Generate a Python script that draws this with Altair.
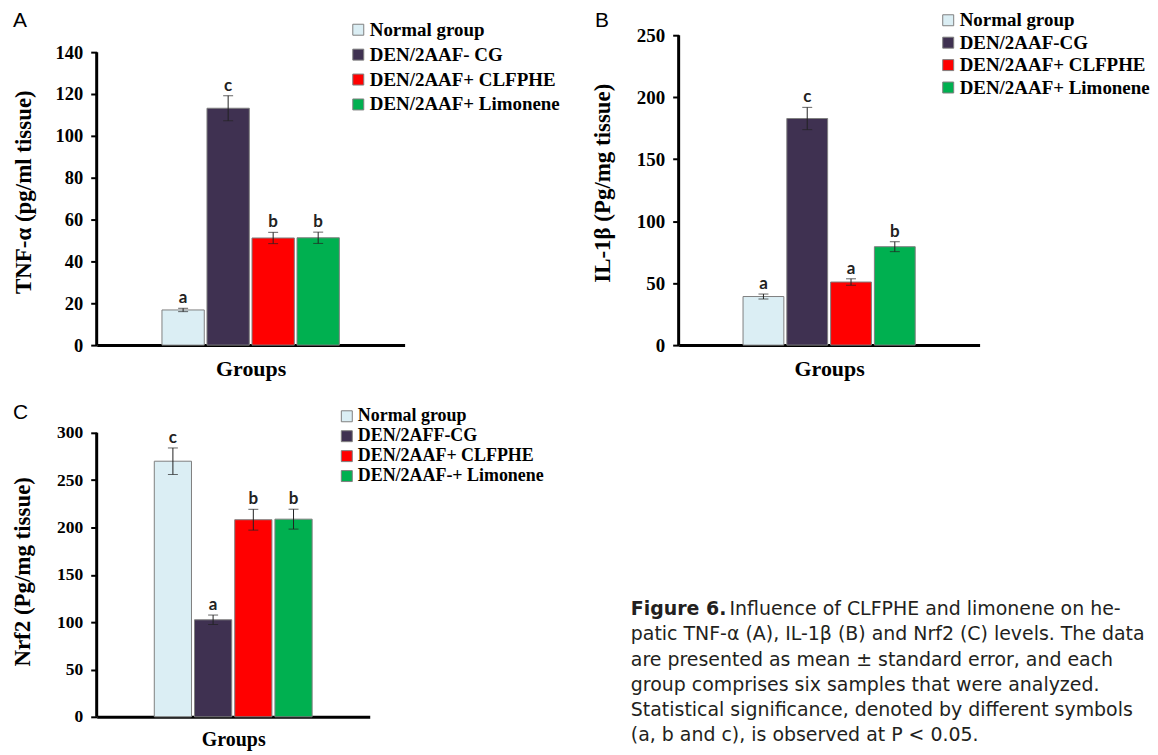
import altair as alt
import pandas as pd

# ---------------- data ----------------
colors = ["#dbeef4", "#3f3151", "#ff0000", "#00b050"]

groups_a = ["Normal group", "DEN/2AAF- CG", "DEN/2AAF+ CLFPHE", "DEN/2AAF+ Limonene"]
tnf_mean = [16.8, 113.2, 51.2, 51.3]
tnf_se = [0.8, 6.0, 2.7, 2.7]
tnf_sig = ["a", "c", "b", "b"]
tnf_ticks = [0, 20, 40, 60, 80, 100, 120, 140]

groups_b = ["Normal group", "DEN/2AAF-CG", "DEN/2AAF+ CLFPHE", "DEN/2AAF+ Limonene"]
il_mean = [39.2, 182.8, 50.9, 79.4]
il_se = [2.0, 9.0, 2.6, 4.0]
il_sig = ["a", "c", "a", "b"]
il_ticks = [0, 50, 100, 150, 200, 250]

groups_c = ["Normal group", "DEN/2AFF-CG", "DEN/2AAF+ CLFPHE", "DEN/2AAF-+ Limonene"]
nrf_mean = [270.0, 102.5, 208.2, 208.8]
nrf_se = [14.0, 5.0, 11.0, 10.5]
nrf_sig = ["c", "a", "b", "b"]
nrf_ticks = [0, 50, 100, 150, 200, 250, 300]

caption_bold = "Figure 6."
caption_first = "Influence of CLFPHE and limonene on he-"
caption_rest = [
    "patic TNF-\u03b1 (A), IL-1\u03b2 (B) and Nrf2 (C) levels. The data",
    "are presented as mean \u00b1 standard error, and each",
    "group comprises six samples that were analyzed.",
    "Statistical significance, denoted by different symbols",
    "(a, b and c), is observed at P < 0.05.",
]

SERIF = "Liberation Serif"


def panel(label, groups, means, ses, sigs, ticks, ytitle, w, h, ymax,
          po, pi, tick_fs, title_fs, groups_fs, title_pad, title_y,
          leg_x, leg_y, leg_fs, leg_rowpad, label_dy):
    df = pd.DataFrame({
        "cat": ["Groups"] * len(groups),
        "group": groups,
        "mean": means,
        "lo": [m - s for m, s in zip(means, ses)],
        "hi": [m + s for m, s in zip(means, ses)],
        "sig": sigs,
    })
    xscale = alt.Scale(paddingInner=0, paddingOuter=po)
    oscale = alt.Scale(domain=groups, paddingInner=pi, paddingOuter=0)
    yscale = alt.Scale(domain=[0, ymax], nice=False, zero=True)
    xaxis = alt.Axis(labels=False, ticks=False, domainColor="black", domainWidth=3,
                     title="Groups", titleFont=SERIF, titleFontSize=groups_fs,
                     titleFontWeight="bold", titleColor="black", titlePadding=13)
    yaxis = alt.Axis(values=ticks, domain=False, grid=False, tickColor="black",
                     tickWidth=2, tickSize=6, labelFont=SERIF, labelFontWeight="bold",
                     labelFontSize=tick_fs, labelColor="black", labelPadding=8,
                     title=ytitle, titleFont=SERIF, titleFontSize=title_fs,
                     titleFontWeight="bold", titleColor="black",
                     titlePadding=title_pad, titleY=title_y)
    X = alt.X("cat:N", scale=xscale, axis=xaxis)
    xo = alt.XOffset("group:N", sort=groups, scale=oscale)
    base = alt.Chart(df)
    bars = base.mark_bar(stroke="#808080", strokeWidth=1).encode(
        x=X,
        xOffset=xo,
        y=alt.Y("mean:Q", scale=yscale, axis=yaxis),
        color=alt.Color(
            "group:N", sort=groups,
            scale=alt.Scale(domain=groups, range=colors),
            legend=alt.Legend(orient="none", legendX=leg_x, legendY=leg_y, title=None,
                              symbolType="square", symbolSize=121,
                              symbolStrokeColor="#7f7f7f", symbolStrokeWidth=1,
                              symbolOpacity=1,
                              labelFont=SERIF, labelFontWeight="bold",
                              labelFontSize=leg_fs, labelColor="black",
                              labelLimit=400, labelOffset=2, rowPadding=leg_rowpad),
        ),
    )
    err_rule = base.mark_rule(color="#222222", strokeWidth=1).encode(
        x=X, xOffset=xo,
        y=alt.Y("lo:Q", scale=yscale, axis=yaxis),
        y2="hi:Q",
    )
    err_lo = base.mark_tick(color="#222222", thickness=1, size=10, orient="horizontal").encode(
        x=X, xOffset=xo,
        y=alt.Y("lo:Q", scale=yscale, axis=yaxis),
    )
    err_hi = base.mark_tick(color="#222222", thickness=1, size=10, orient="horizontal").encode(
        x=X, xOffset=xo,
        y=alt.Y("hi:Q", scale=yscale, axis=yaxis),
    )
    txt = base.mark_text(font="Lato", fontWeight="bold", fontSize=17,
                         baseline="alphabetic", dy=-5, color="#222222").encode(
        x=X, xOffset=xo,
        y=alt.Y("hi:Q", scale=yscale, axis=yaxis),
        text="sig:N",
    )
    yaxis_line = alt.Chart(pd.DataFrame({"y0": [0], "y1": [ticks[-1]]})).mark_rule(
        color="black", strokeWidth=3
    ).encode(
        x=alt.value(0),
        y=alt.Y("y0:Q", scale=yscale, axis=yaxis),
        y2="y1:Q",
    )
    return alt.layer(bars, err_rule, err_lo, err_hi, txt, yaxis_line).properties(
        width=w, height=h,
        title=alt.TitleParams(label, anchor="start", frame="group", dx=-84, dy=label_dy,
                              font="Liberation Sans", fontSize=21, fontWeight="normal",
                              color="black", offset=6),
    )


pa = panel("A", groups_a, tnf_mean, tnf_se, tnf_sig, tnf_ticks, "TNF-\u03b1 (pg/ml tissue)",
           309, 311, 148.1, 0.368, 0.06, 18.5, 23, 22, 20, 157, 253, -15, 19, 5, 17)
pb = panel("B", groups_b, il_mean, il_se, il_sig, il_ticks, "IL-1\u03b2 (Pg/mg tissue)",
           302, 311, 250, 0.374, 0.068, 19, 23, 22, 22, 148, 261, -24.5, 19, 2.5, 26)
pc = panel("C", groups_c, nrf_mean, nrf_se, nrf_sig, nrf_ticks, "Nrf2 (Pg/mg tissue)",
           274, 285, 300, 0.365, 0.075, 17.5, 23, 20, 22, 139, 242, -25.6, 18, 2, 22)

cap_first_df = pd.DataFrame({"line": [0], "bold": [caption_bold], "rest": [caption_first]})
cap_rest_df = pd.DataFrame({"line": list(range(1, 1 + len(caption_rest))), "text": caption_rest})
cap_y = alt.Scale(domain=[0, 5], range=[183, 309.5])
CAP_X = -48
cap_bold = alt.Chart(cap_first_df).mark_text(
    font="DejaVu Sans", fontSize=19, fontWeight="bold", align="left",
    baseline="alphabetic", color="#231f20"
).encode(x=alt.value(CAP_X), y=alt.Y("line:Q", scale=cap_y, axis=None), text="bold:N")
cap_first_txt = alt.Chart(cap_first_df).mark_text(
    font="DejaVu Sans", fontSize=19, align="left", baseline="alphabetic",
    color="#231f20", dx=99
).encode(x=alt.value(CAP_X), y=alt.Y("line:Q", scale=cap_y, axis=None), text="rest:N")
cap_rest_txt = alt.Chart(cap_rest_df).mark_text(
    font="DejaVu Sans", fontSize=19, align="left", baseline="alphabetic",
    color="#231f20"
).encode(x=alt.value(CAP_X), y=alt.Y("line:Q", scale=cap_y, axis=None), text="text:N")
caption = alt.layer(cap_bold, cap_first_txt, cap_rest_txt).properties(width=300, height=285)

chart = alt.concat(pa, pb, pc, caption, columns=2, spacing={"row": 88, "column": 275},
                   bounds="flush").resolve_scale(
    x="independent", y="independent", color="independent", xOffset="independent"
).properties(
    padding={"left": 3, "top": 0, "right": 0, "bottom": 0},
    background="white",
).configure_view(stroke=None)

chart.save("out.html", embed_options={"renderer": "svg", "actions": False})
